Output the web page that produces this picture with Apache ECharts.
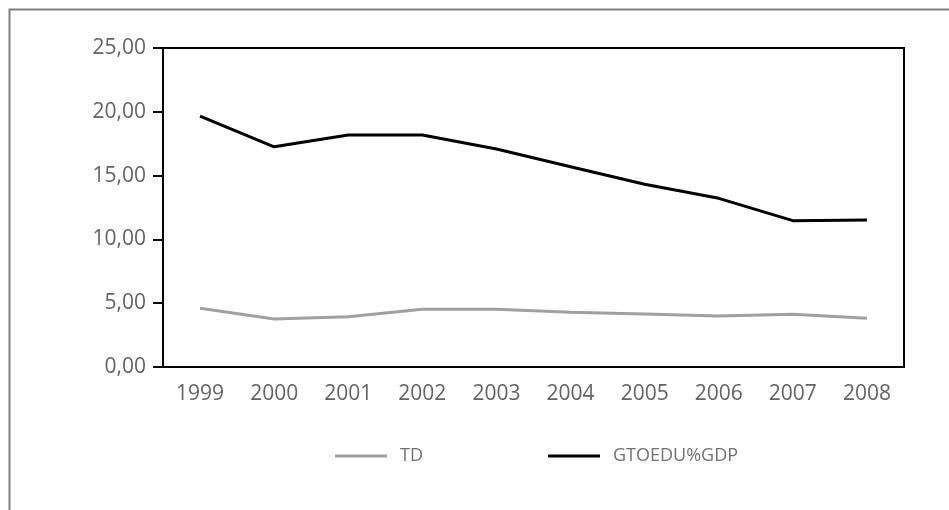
<!DOCTYPE html>
<html><head><meta charset="utf-8">
<script src="https://cdn.jsdelivr.net/npm/echarts@6/dist/echarts.min.js"></script>
<style>html,body{margin:0;padding:0;background:#fff}#c{width:949px;height:510px}</style>
</head><body><div id="c"></div>
<script>
const years = ['1999','2000','2001','2002','2003','2004','2005','2006','2007','2008'];
const td = [4.60, 3.76, 3.94, 4.52, 4.52, 4.29, 4.15, 4.00, 4.13, 3.82];
const gtoedu = [19.67, 17.26, 18.18, 18.18, 17.08, 15.70, 14.32, 13.22, 11.47, 11.52];
const yTicks = {min: 0, max: 25, interval: 5};

const chart = echarts.init(document.getElementById('c'), null, {renderer: 'canvas'});
const font = '"Open Sans", sans-serif';
chart.setOption({
  animation: false,
  backgroundColor: '#fff',
  graphic: [{type: 'rect', shape: {x: 9.5, y: 9.5, width: 960, height: 520}, style: {fill: 'none', stroke: '#808080', lineWidth: 2}, silent: true}],
  grid: {left: 163, right: 45, top: 48, bottom: 143, show: true, borderColor: '#000', borderWidth: 2, backgroundColor: 'transparent'},
  legend: {
    left: 330, top: 442, itemWidth: 52, itemHeight: 20, itemGap: 125,
    icon: 'path://M0,9 L52,9 L52,12 L0,12 Z',
    textStyle: {fontFamily: font, fontSize: 18, color: '#707070', padding: [0, 0, 0, 8]},
    data: ['TD', 'GTOEDU%GDP']
  },
  xAxis: {
    type: 'category', data: years, boundaryGap: true,
    axisLine: {lineStyle: {color: '#000', width: 2}},
    axisTick: {alignWithLabel: true, length: 10, lineStyle: {color: '#000', width: 2}},
    axisLabel: {fontFamily: font, fontSize: 21, color: '#636363', margin: 17},
    splitLine: {show: false}
  },
  yAxis: {
    type: 'value', min: yTicks.min, max: yTicks.max, interval: yTicks.interval,
    axisLine: {show: true, lineStyle: {color: '#000', width: 2}},
    axisTick: {show: true, length: 10, lineStyle: {color: '#000', width: 2}},
    axisLabel: {fontFamily: font, fontSize: 21, color: '#636363', margin: 17,
      formatter: v => v.toFixed(2).replace('.', ',')},
    splitLine: {show: false}
  },
  series: [
    {name: 'TD', type: 'line', data: td, symbol: 'none', color: '#a0a0a0', lineStyle: {color: '#a0a0a0', width: 3}},
    {name: 'GTOEDU%GDP', type: 'line', data: gtoedu, symbol: 'none', color: '#000', lineStyle: {color: '#000', width: 3}}
  ]
});
</script></body></html>
